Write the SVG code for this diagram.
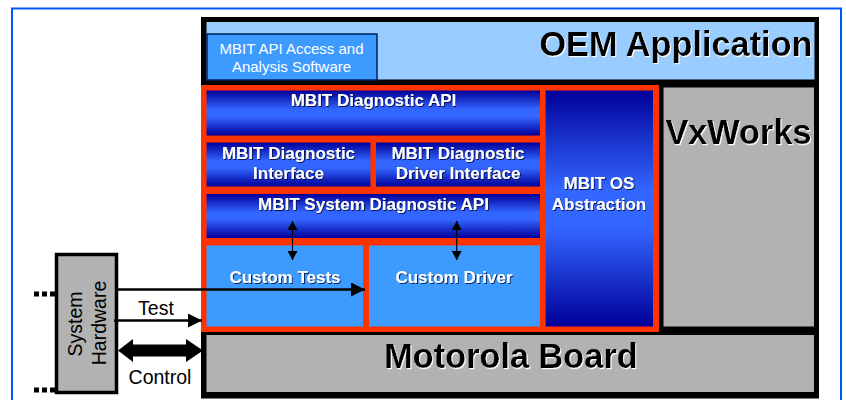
<svg xmlns="http://www.w3.org/2000/svg" width="846" height="400" viewBox="0 0 846 400">
<defs>
<linearGradient id="band" x1="0" y1="0" x2="0" y2="1"><stop offset="0" stop-color="#000099"/><stop offset="0.42" stop-color="#3366ff"/><stop offset="0.58" stop-color="#3366ff"/><stop offset="1" stop-color="#000099"/></linearGradient>
<filter id="sd" x="-5%" y="-20%" width="110%" height="140%"><feDropShadow dx="1" dy="1" stdDeviation="0.4" flood-color="#000033" flood-opacity="0.8"/></filter>
<filter id="sl" x="-5%" y="-20%" width="110%" height="140%"><feDropShadow dx="1" dy="1.2" stdDeviation="0.2" flood-color="#ffffff" flood-opacity="1"/></filter>
<marker id="h" markerUnits="userSpaceOnUse" markerWidth="14" markerHeight="14" refX="14" refY="7" orient="auto-start-reverse"><path d="M0,0 L14,7 L0,14 Z" fill="#000"/></marker>
<marker id="s" markerUnits="userSpaceOnUse" markerWidth="9" markerHeight="10" refX="9" refY="5" orient="auto-start-reverse"><path d="M0,0 L9,5 L0,10 Z" fill="#000"/></marker>
</defs>
<style>
text{font-family:"Liberation Sans",Arial,sans-serif;text-anchor:middle}
.w{fill:#fff;font-weight:bold;font-size:17px;filter:url(#sd)}
.k{fill:#000;font-weight:bold;font-size:34.300px;filter:url(#sl)}
.n{fill:#000;font-size:19.500px}
.g{fill:url(#band)}
.c{stroke:#000;fill:none}
</style>
<rect x="12" y="8.5" width="829" height="420" fill="#fff" stroke="#0055ff" stroke-width="2"/>
<g id="platform"><rect x="201" y="17" width="618" height="381.5" fill="#000"/></g>
<g id="oem-application"><rect x="206.500" y="22" width="608" height="57.500" fill="#99ccff"/><text class="k" x="676" y="56">OEM Application</text></g>
<g id="analysis-software"><rect x="207" y="34" width="170" height="46" fill="#3d9bff" stroke="#002060" stroke-width="1.500"/><text x="291.500" y="54" fill="#fff" font-size="15">MBIT API Access and</text><text x="291.500" y="72" fill="#fff" font-size="15">Analysis Software</text></g>
<rect x="201" y="85" width="458" height="247" fill="#ff3300"/>
<g id="diagnostic-api"><rect class="g" x="206.500" y="90.500" width="333.500" height="45"/><text class="w" x="373.500" y="106">MBIT Diagnostic API</text></g>
<g id="diagnostic-interface"><rect class="g" x="206.500" y="142.500" width="164" height="44"/><text class="w" x="288.500" y="159">MBIT Diagnostic</text><text class="w" x="288.500" y="179">Interface</text></g>
<g id="driver-interface"><rect class="g" x="376" y="142.500" width="164" height="44"/><text class="w" x="458" y="159">MBIT Diagnostic</text><text class="w" x="458" y="179">Driver Interface</text></g>
<g id="system-api"><rect class="g" x="206.500" y="194" width="333.500" height="44"/><text class="w" x="373.500" y="210">MBIT System Diagnostic API</text></g>
<g id="custom-tests"><rect x="206.500" y="245.500" width="156.500" height="81" fill="#3d9bff"/><text class="w" x="285" y="283">Custom Tests</text></g>
<g id="custom-driver"><rect x="369" y="245.500" width="171" height="81" fill="#3d9bff"/><text class="w" x="454" y="283">Custom Driver</text></g>
<g id="os-abstraction"><rect class="g" x="545.700" y="90.500" width="107.300" height="236"/><text class="w" x="599" y="189">MBIT OS</text><text class="w" x="599" y="210">Abstraction</text></g>
<g id="vxworks"><rect x="663.500" y="87.500" width="150.500" height="239" fill="#b2b2b2"/><text class="k" x="738.500" y="144">VxWorks</text></g>
<g id="motorola-board"><rect x="206.500" y="335" width="607.500" height="57" fill="#b2b2b2"/><text class="k" x="511" y="368">Motorola Board</text></g>
<g id="system-hardware"><rect x="56.500" y="254.500" width="60" height="138" fill="#b2b2b2" stroke="#000" stroke-width="3.500"/><text class="n" transform="translate(82,324) rotate(-90)">System</text><text class="n" transform="translate(105.500,323) rotate(-90)">Hardware</text></g>
<g id="connectors">
<path class="c" d="M34,294H55M34,390H55" stroke-width="5" stroke-dasharray="5 3"/>
<path class="c" d="M117,289.500H365" stroke-width="2.500" marker-end="url(#h)"/>
<path class="c" d="M114,320.500H202" stroke-width="2.500" marker-end="url(#h)"/>
<path d="M118,350.500L133,339V344.500H186V339L203,350.500L186,362V356.500H133V362Z" fill="#000"/>
<path class="c" d="M292.500,221V260" stroke-width="1.200" marker-start="url(#s)" marker-end="url(#s)"/>
<path class="c" d="M456.700,221V260" stroke-width="1.200" marker-start="url(#s)" marker-end="url(#s)"/>
<text class="n" x="156" y="315">Test</text>
<text class="n" x="160" y="384">Control</text>
</g>
</svg>
